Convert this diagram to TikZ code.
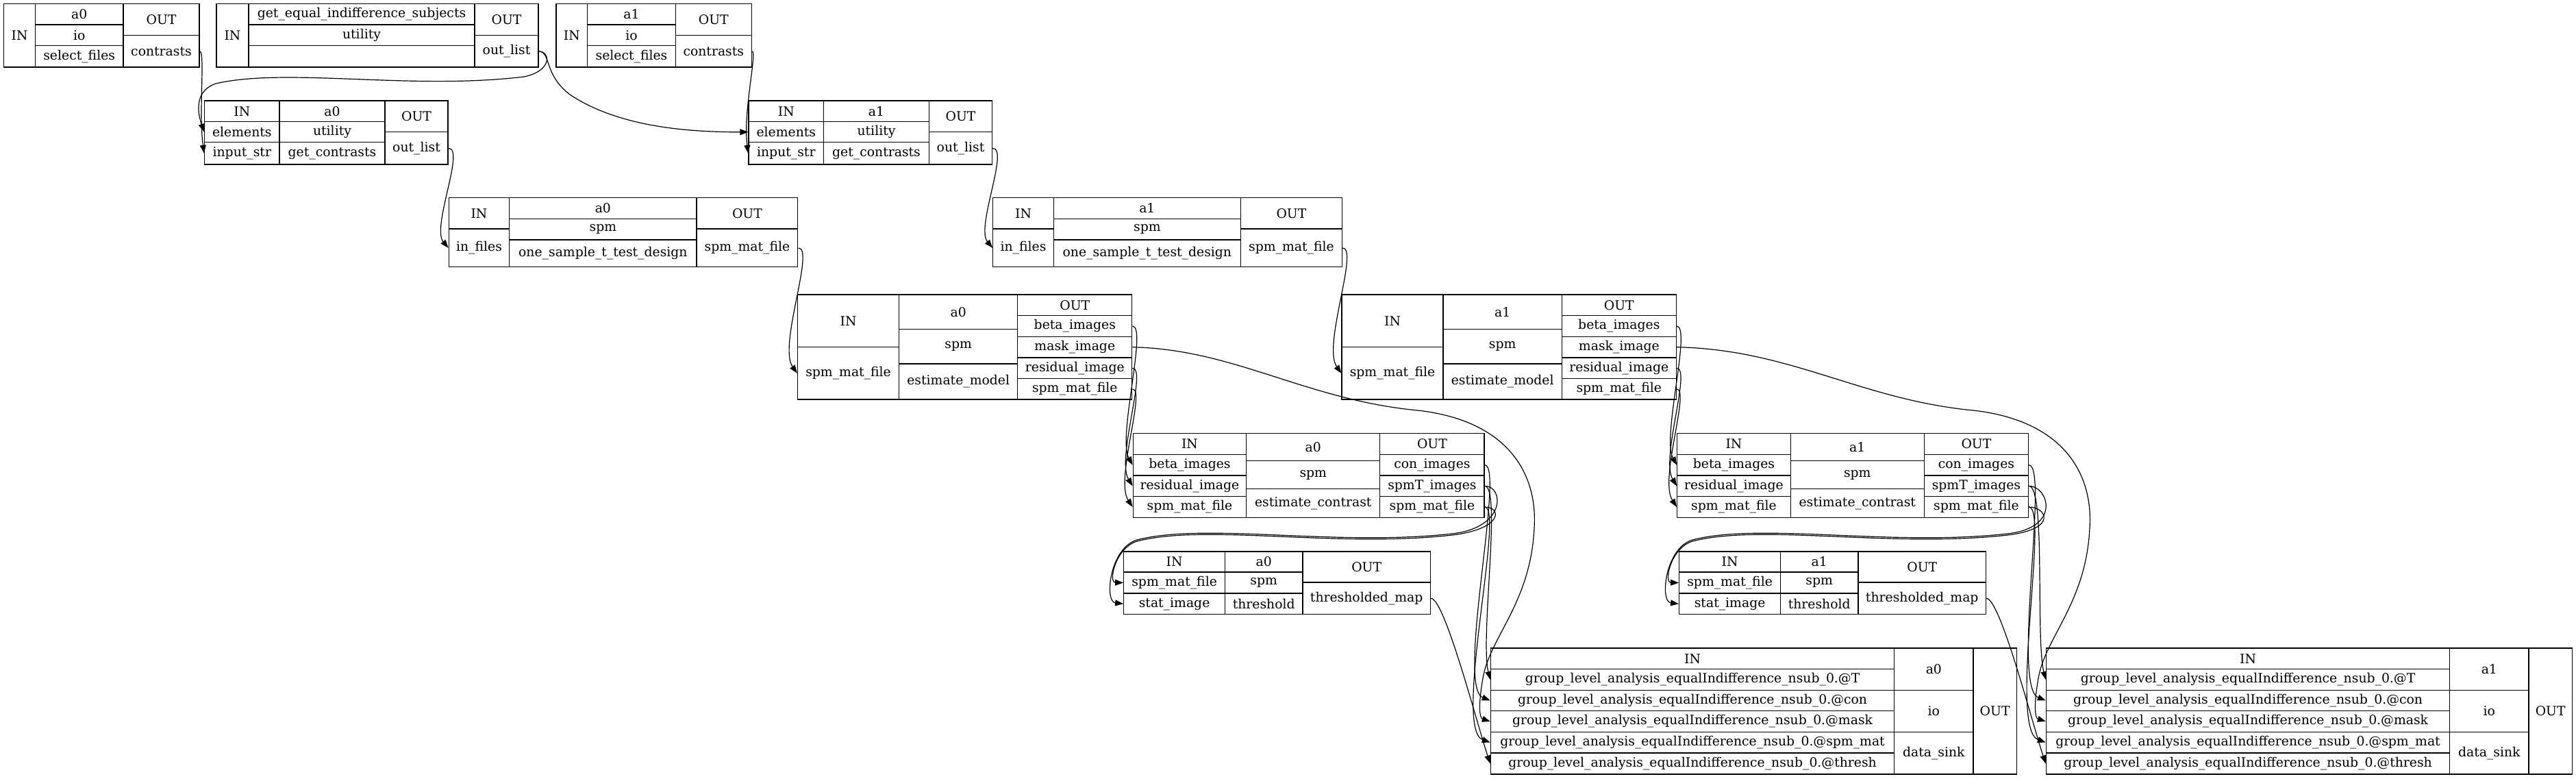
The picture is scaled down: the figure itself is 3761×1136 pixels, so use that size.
\documentclass[tikz,border=0pt]{standalone}
\usepackage{fontspec}
\setmainfont{DejaVu Serif}
\usetikzlibrary{arrows.meta}

% one field of a record: name, x1, y1, x2, y2 (pixels, y down), text
\newcommand{\reccell}[6]{%
  \node[cell, minimum width={((#4)-(#2))*0.5pt}, minimum height={((#5)-(#3))*0.5pt}]
    (#1) at ({((#2)+(#4))/2},{((#3)+(#5))/2}) {#6};}

\begin{document}
\begin{tikzpicture}[
    x=0.5pt, y=-0.5pt,
    cell/.style={draw, line width=0.65pt, inner sep=0pt, font=\fontsize{9.4}{11}\selectfont},
    wire/.style={-{Triangle[length=6pt, width=4.4pt]}, line width=0.6pt}
  ]
  \useasboundingbox (0,0) rectangle (3761,1136);

  % get_equal_indifference_subjects
  \reccell{geq-in}{316}{5.7}{363}{98}{IN}
  \reccell{geq-a}{363}{5.7}{693}{36}{get\_equal\_indifference\_subjects}
  \reccell{geq-b}{363}{36}{693}{66.7}{utility}
  \reccell{geq-c}{363}{66.7}{693}{98}{}
  \reccell{geq-out}{693}{5.7}{786}{51.7}{OUT}
  \reccell{geq-list}{693}{51.7}{786}{98}{out\_list}

  \foreach \idx/\sx/\ux/\kx in {0/0/0/0, 1/806.3/794.5/811}{
    % select_files
    \begin{scope}[xshift=\sx*0.5pt]
      \reccell{s\idx-in}{5.7}{5.7}{51.4}{98}{IN}
      \reccell{s\idx-a}{51.4}{5.7}{180}{36}{a\idx}
      \reccell{s\idx-b}{51.4}{36}{180}{66.7}{io}
      \reccell{s\idx-c}{51.4}{66.7}{180}{98}{select\_files}
      \reccell{s\idx-out}{180}{5.7}{291}{51.7}{OUT}
      \reccell{s\idx-con}{180}{51.7}{291}{98}{contrasts}
    \end{scope}
    \begin{scope}[xshift=\ux*0.5pt]
      % get_contrasts
      \reccell{u\idx-in}{298.6}{147}{408}{177.7}{IN}
      \reccell{u\idx-el}{298.6}{177.7}{408}{207.7}{elements}
      \reccell{u\idx-str}{298.6}{207.7}{408}{240}{input\_str}
      \reccell{u\idx-a}{408}{147}{562}{177.7}{a\idx}
      \reccell{u\idx-b}{408}{177.7}{562}{207.7}{utility}
      \reccell{u\idx-c}{408}{207.7}{562}{240}{get\_contrasts}
      \reccell{u\idx-out}{562}{147}{654}{192.7}{OUT}
      \reccell{u\idx-list}{562}{192.7}{654}{240}{out\_list}
      % one_sample_t_test_design
      \reccell{d\idx-in}{655.3}{288.7}{743.7}{334}{IN}
      \reccell{d\idx-files}{655.3}{334}{743.7}{389.7}{in\_files}
      \reccell{d\idx-a}{743.7}{288.7}{1017}{319.3}{a\idx}
      \reccell{d\idx-b}{743.7}{319.3}{1017}{350}{spm}
      \reccell{d\idx-c}{743.7}{350}{1017}{389.7}{one\_sample\_t\_test\_design}
      \reccell{d\idx-out}{1017}{288.7}{1164.8}{334}{OUT}
      \reccell{d\idx-mat}{1017}{334}{1164.8}{389.7}{spm\_mat\_file}
      % estimate_model
      \reccell{m\idx-in}{1164.5}{430}{1312.6}{506.7}{IN}
      \reccell{m\idx-mat}{1164.5}{506.7}{1312.6}{583}{spm\_mat\_file}
      \reccell{m\idx-a}{1312.6}{430}{1485.8}{480.3}{a\idx}
      \reccell{m\idx-b}{1312.6}{480.3}{1485.8}{531}{spm}
      \reccell{m\idx-c}{1312.6}{531}{1485.8}{583}{estimate\_model}
      \reccell{m\idx-out}{1485.8}{430}{1652.8}{460.7}{OUT}
      \reccell{m\idx-beta}{1485.8}{460.7}{1652.8}{491.3}{beta\_images}
      \reccell{m\idx-mask}{1485.8}{491.3}{1652.8}{522}{mask\_image}
      \reccell{m\idx-res}{1485.8}{522}{1652.8}{552.7}{residual\_image}
      \reccell{m\idx-smat}{1485.8}{552.7}{1652.8}{583}{spm\_mat\_file}
      % estimate_contrast
      \reccell{c\idx-in}{1654.2}{632.7}{1819.7}{663.3}{IN}
      \reccell{c\idx-beta}{1654.2}{663.3}{1819.7}{694}{beta\_images}
      \reccell{c\idx-res}{1654.2}{694}{1819.7}{724.7}{residual\_image}
      \reccell{c\idx-mat}{1654.2}{724.7}{1819.7}{755.3}{spm\_mat\_file}
      \reccell{c\idx-a}{1819.7}{632.7}{2014.8}{672.7}{a\idx}
      \reccell{c\idx-b}{1819.7}{672.7}{2014.8}{713.3}{spm}
      \reccell{c\idx-c}{1819.7}{713.3}{2014.8}{755.3}{estimate\_contrast}
      \reccell{c\idx-out}{2014.8}{632.7}{2167}{663.3}{OUT}
      \reccell{c\idx-con}{2014.8}{663.3}{2167}{694}{con\_images}
      \reccell{c\idx-spmT}{2014.8}{694}{2167}{724.7}{spmT\_images}
      \reccell{c\idx-smat}{2014.8}{724.7}{2167}{755.3}{spm\_mat\_file}
    \end{scope}
    \begin{scope}[xshift=\kx*0.5pt]
      % threshold
      \reccell{t\idx-in}{1640.7}{805}{1788.5}{835}{IN}
      \reccell{t\idx-mat}{1640.7}{835}{1788.5}{866}{spm\_mat\_file}
      \reccell{t\idx-stat}{1640.7}{866}{1788.5}{896.7}{stat\_image}
      \reccell{t\idx-a}{1788.5}{805}{1901.9}{835}{a\idx}
      \reccell{t\idx-b}{1788.5}{835}{1901.9}{866}{spm}
      \reccell{t\idx-c}{1788.5}{866}{1901.9}{896.7}{threshold}
      \reccell{t\idx-out}{1901.9}{805}{2088.5}{850}{OUT}
      \reccell{t\idx-map}{1901.9}{850}{2088.5}{896.7}{thresholded\_map}
      % data_sink
      \reccell{k\idx-in}{2176.4}{946}{2765.7}{976.7}{IN}
      \reccell{k\idx-T}{2176.4}{976.7}{2765.7}{1007.3}{group\_level\_analysis\_equalIndifference\_nsub\_0.@T}
      \reccell{k\idx-con}{2176.4}{1007.3}{2765.7}{1037.7}{group\_level\_analysis\_equalIndifference\_nsub\_0.@con}
      \reccell{k\idx-mask}{2176.4}{1037.7}{2765.7}{1068.3}{group\_level\_analysis\_equalIndifference\_nsub\_0.@mask}
      \reccell{k\idx-smat}{2176.4}{1068.3}{2765.7}{1099}{group\_level\_analysis\_equalIndifference\_nsub\_0.@spm\_mat}
      \reccell{k\idx-thr}{2176.4}{1099}{2765.7}{1130}{group\_level\_analysis\_equalIndifference\_nsub\_0.@thresh}
      \reccell{k\idx-a}{2765.7}{946}{2880.9}{1007.3}{a\idx}
      \reccell{k\idx-b}{2765.7}{1007.3}{2880.9}{1068.3}{io}
      \reccell{k\idx-c}{2765.7}{1068.3}{2880.9}{1130}{data\_sink}
      \reccell{k\idx-out}{2880.9}{946}{2944.3}{1130}{OUT}
    \end{scope}

    % connections of one branch
    \draw[wire] (s\idx-con.east) .. controls +(8,0) and +(-8,-60) .. (u\idx-str.west);
    \draw[wire] (u\idx-list.east) .. controls +(25,0) and +(-25,-30) .. (d\idx-files.west);
    \draw[wire] (d\idx-mat.east) .. controls +(25,0) and +(-28,-40) .. (m\idx-mat.west);
    \draw[wire] (m\idx-beta.east) .. controls +(22,0) and +(-22,-40) .. (c\idx-beta.west);
    \draw[wire] (m\idx-res.east) .. controls +(22,0) and +(-24,-40) .. (c\idx-res.west);
    \draw[wire] (m\idx-smat.east) .. controls +(20,0) and +(-26,-40) .. (c\idx-mat.west);
    \draw[wire] (m\idx-mask.east) .. controls ({1800+\kx},510) and ({1900+\kx},580) .. ({2060+\kx},598)
      .. controls ({2200+\kx},610) and ({2245+\kx},690) .. ({2240+\kx},770)
      .. controls ({2235+\kx},880) and ({2175+\kx},930) .. ({2165+\kx},990)
      .. controls ({2158+\kx},1030) and ({2160+\kx},1048) .. (k\idx-mask.west);
    \draw[wire] (c\idx-spmT.east) .. controls +(28,0) and ({2200+\kx},770) .. ({2120+\kx},779)
      .. controls ({1950+\kx},798) and ({1760+\kx},762) .. ({1660+\kx},788)
      .. controls ({1620+\kx},800) and ({1612+\kx},878) .. (t\idx-stat.west);
    \draw[wire] (c\idx-smat.east) .. controls +(25,0) and ({2195+\kx},772) .. ({2120+\kx},781)
      .. controls ({1950+\kx},800) and ({1760+\kx},764) .. ({1660+\kx},790)
      .. controls ({1628+\kx},800) and ({1618+\kx},850) .. (t\idx-mat.west);
    \draw[wire] (c\idx-con.east) .. controls +(30,0) and +(-50,-20) .. (k\idx-con.west);
    \draw[wire] (c\idx-spmT.east) .. controls +(25,0) and +(-15,-60) .. (k\idx-T.west);
    \draw[wire] (c\idx-smat.east) .. controls +(30,0) and +(-55,-20) .. (k\idx-smat.west);
    \draw[wire] (t\idx-map.east) .. controls +(20,0) and +(-20,-60) .. (k\idx-thr.west);
  }

  % the subject list feeds both branches
  \draw[wire] (geq-list.east) .. controls (805,76) and (805,104) .. (765,112)
    .. controls (600,132) and (420,98) .. (315,122)
    .. controls (286,132) and (287,160) .. (u0-el.west);
  \draw[wire] (geq-list.east) .. controls (805,76) and (793,108) .. (832,138)
    .. controls (895,180) and (985,193) .. (u1-el.west);
\end{tikzpicture}
\end{document}
